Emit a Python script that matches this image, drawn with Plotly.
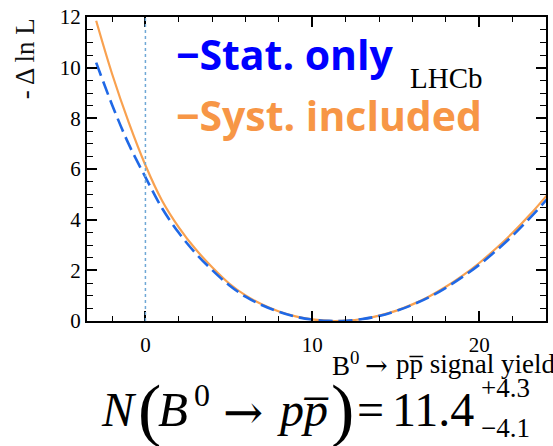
import plotly.graph_objects as go

# Profile likelihood scan of the B0 -> p pbar signal yield
yield_pts = [-2.95, -2, -1, 0, 1, 2, 3, 4, 5, 6, 7, 8, 9, 10, 11, 11.4,
             12, 13, 14, 15, 16, 17, 18, 19, 20, 21, 22, 23, 24, 24.5]
nll_syst = [11.85, 9.76, 7.84, 6.15, 4.75, 3.70, 2.84, 2.12, 1.49, 1.01, 0.65, 0.375, 0.18, 0.061, 0.005, 0.0,
            0.011, 0.079, 0.21, 0.40, 0.656, 0.97, 1.35, 1.79, 2.29, 2.86, 3.48, 4.17, 4.92, 5.32]
nll_stat = [10.2, 8.54, 6.98, 5.68, 4.45, 3.48, 2.68, 2.01, 1.42, 0.96, 0.62, 0.36, 0.17, 0.058, 0.005, 0.0,
            0.011, 0.077, 0.20, 0.39, 0.64, 0.94, 1.31, 1.74, 2.22, 2.77, 3.37, 4.04, 4.76, 5.15]

x_range = [-3.5, 24]
y_range = [0, 12]

W, H = 553, 446
L, R, T, B = 87, 5, 10, 125
PW, PH = W - L - R, H - T - B

SERIF = "Liberation Serif"
ARROW = "DejaVu Serif"
SANS = "Open Sans"


def px(x):
    return (x - L) / PW


def py(y):
    return (H - B - y) / PH


fig = go.Figure()

fig.add_trace(go.Scatter(x=yield_pts, y=nll_syst, mode="lines",
                         line=dict(color="#f9a14f", width=2.2, shape="spline"),
                         showlegend=False))
fig.add_trace(go.Scatter(x=yield_pts, y=nll_stat, mode="lines",
                         line=dict(color="#1f68e6", width=2.6, dash="14px,6px", shape="spline"),
                         showlegend=False))

# zero-yield reference line
fig.add_shape(type="line", x0=0, x1=0, y0=y_range[0], y1=y_range[1], xref="x", yref="y",
              line=dict(color="#6fa8d6", width=1.5, dash="dot"))

axis_common = dict(showline=True, linecolor="black", linewidth=2, mirror="allticks",
                   ticks="inside", tickcolor="black", tickwidth=1.5, ticklen=10,
                   showgrid=False, zeroline=False, ticklabeloverflow="allow",
                   tickfont=dict(family=SERIF, size=21, color="black"))

fig.update_xaxes(range=x_range, tickvals=[0, 10, 20], ticklabelstandoff=4,
                 minor=dict(ticks="inside", ticklen=5, tickwidth=1.2, tickcolor="black", dtick=2, tick0=0,
                            showgrid=False),
                 **axis_common)
fig.update_yaxes(range=y_range, tickvals=[0, 2, 4, 6, 8, 10, 12],
                 minor=dict(ticks="inside", ticklen=6, tickwidth=1.2, tickcolor="black", dtick=0.5, tick0=0,
                            showgrid=False),
                 **axis_common)

ann = []


def text(s, x, y, size, family=SERIF, color="black", xanchor="left", angle=0, yanchor="middle"):
    ann.append(dict(text=s, x=px(x), y=py(y), xref="paper", yref="paper", showarrow=False,
                    xanchor=xanchor, yanchor=yanchor, textangle=angle,
                    font=dict(family=family, size=size, color=color)))


# axis titles
text("- Δ ln L", 25, 53, 27, angle=-90, xanchor="center", color="#111")
text("B<sup>0</sup>", 331, 365, 27)
text("\u2192", 364, 367, 27, family=ARROW)
text("pp\u0305 signal yield", 395, 365, 27)

# legend-style labels
text("<b>\u2212Stat. only</b>", 174, 48, 41, family=SANS, color="#0000ff")
text("<b>\u2212Syst. included</b>", 174, 110, 41, family=SANS, color="#f79646")
text("LHCb", 409, 72, 29)

# fitted yield
text("<i>N</i>", 99, 412, 48)
text("(", 136, 412, 70)
text("<i>B</i>", 156, 412, 49)
text("0", 192, 397, 32)
text("\u2192", 222, 414, 48, family=ARROW)
text("<i>pp\u0305</i>", 276, 412, 48)
text(")", 330, 412, 70)
text("=", 356, 412, 48)
text("11.4", 391, 412, 48)
text("+4.3", 481, 390, 27)
text("\u22124.1", 481, 430, 27)

fig.update_layout(width=W, height=H, margin=dict(l=L, r=R, t=T, b=B),
                  paper_bgcolor="white", plot_bgcolor="white",
                  annotations=ann, showlegend=False)

fig.write_html("out.html")
